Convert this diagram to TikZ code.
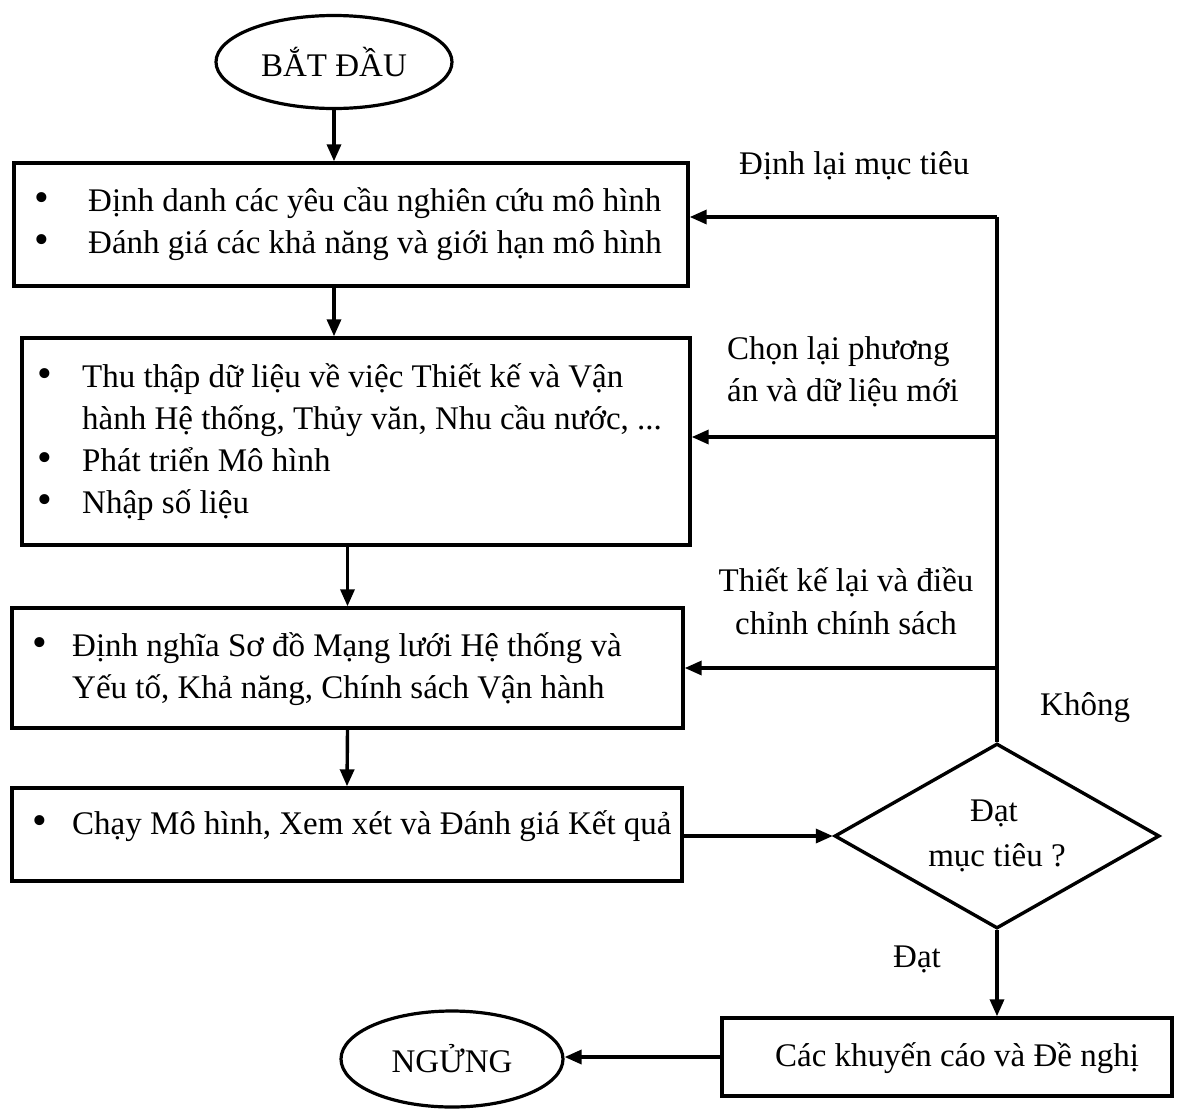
\documentclass[tikz,border=0pt]{standalone}
\usepackage{fontspec}
\setmainfont{Liberation Serif}
\usetikzlibrary{arrows.meta,shapes.geometric}
\begin{document}
\begin{tikzpicture}[x=1pt,y=-1pt,
  box/.style={draw, rectangle, inner sep=0pt, line width=3.4pt},
  term/.style={draw, ellipse, inner sep=0pt, line width=3.2pt, font=\fontsize{33}{40}\selectfont},
  dec/.style={draw, diamond, inner sep=0pt, line width=3.4pt},
  arr/.style={-{Triangle[length=17pt,width=14pt]}, line width=3.4pt},
  ln/.style={line width=3.4pt},
  txt/.style={font=\fontsize{33}{40}\selectfont, inner sep=0pt, anchor=base west},
  ctr/.style={font=\fontsize{33}{40}\selectfont, inner sep=0pt, anchor=base},
  bul/.style={font=\fontsize{42}{48}\selectfont, inner sep=0pt, anchor=base}]
\useasboundingbox (0,0) rectangle (1186,1111);

% terminals and boxes
\node[term, minimum width=236pt, minimum height=93pt] (s) at (334,62) {BẮT ĐẦU};
\node[box, minimum width=674pt, minimum height=123pt] (b1) at (351,224.5) {};
\node[box, minimum width=668pt, minimum height=207pt] (b2) at (356,441.5) {};
\node[box, minimum width=671pt, minimum height=120pt] (b3) at (347.5,668) {};
\node[box, minimum width=670pt, minimum height=93pt] (b4) at (347,834.5) {};
\node[dec, minimum width=325pt, minimum height=185pt] (d) at (997,836) {};
\node[box, minimum width=450pt, minimum height=78pt] (b5) at (947,1057) {};
\node[term, minimum width=222pt, minimum height=96pt] (e) at (452,1059) {NGỬNG};

% box 1 text
\node[bul] (b1p1) at (42,211) {•};
\node[txt] (b1t1) at (88,211) {Định danh các yêu cầu nghiên cứu mô hình};
\node[bul] (b1p2) at (42,253) {•};
\node[txt] (b1t2) at (88,253) {Đánh giá các khả năng và giới hạn mô hình};

% box 2 text
\node[bul] (b2p1) at (45,387) {•};
\node[txt] (b2t1) at (82,387) {Thu thập dữ liệu về việc Thiết kế và Vận};
\node[txt] (b2t2) at (82,429) {hành Hệ thống, Thủy văn, Nhu cầu nước, ...};
\node[bul] (b2p3) at (45,471) {•};
\node[txt] (b2t3) at (82,471) {Phát triển Mô hình};
\node[bul] (b2p4) at (45,513) {•};
\node[txt] (b2t4) at (82,513) {Nhập số liệu};

% box 3 text
\node[bul] (b3p1) at (40,656) {•};
\node[txt] (b3t1) at (72,656) {Định nghĩa Sơ đồ Mạng lưới Hệ thống và};
\node[txt] (b3t2) at (72,698) {Yếu tố, Khả năng, Chính sách Vận hành};

% box 4 text
\node[bul] (b4p1) at (40,834) {•};
\node[txt] (b4t1) at (72,834) {Chạy Mô hình, Xem xét và Đánh giá Kết quả};

% diamond text
\node[ctr] (dt1) at (994,821) {Đạt};
\node[ctr] (dt2) at (997,866) {mục tiêu ?};

% box 5 text
\node[ctr] (b5t) at (957,1066) {Các khuyến cáo và Đề nghị};

% labels
\node[txt] (l1) at (739,174) {Định lại mục tiêu};
\node[txt] (l2a) at (727,359) {Chọn lại phương};
\node[txt] (l2b) at (727,401) {án và dữ liệu mới};
\node[ctr] (l3a) at (846,591) {Thiết kế lại và điều};
\node[ctr] (l3b) at (846,634) {chỉnh chính sách};
\node[txt] (l4) at (1040,715) {Không};
\node[txt] (l5) at (893,967) {Đạt};

% main flow
\draw[arr] (s.south) -- (s.south |- b1.north);
\draw[arr] (b1.south -| s.south) -- (s.south |- b2.north);
\draw[arr] (b2.south -| b3.north) -- (b3.north);
\draw[arr] (b3.south) -- (b4.north);
\draw[arr] (b4.east |- d.west) -- (d.west);
\draw[arr] (d.south) -- (d.south |- b5.north);
\draw[arr] (b5.west) -- (b5.west -| e.east);

% feedback loops
\coordinate (c1) at (997,217);
\coordinate (c2) at (997,437);
\coordinate (c3) at (997,668);
\draw[ln] (d.north) -- (c1);
\draw[arr] (c1) -- (c1 -| b1.east);
\draw[arr] (c2) -- (c2 -| b2.east);
\draw[arr] (c3) -- (c3 -| b3.east);
\end{tikzpicture}
\end{document}
